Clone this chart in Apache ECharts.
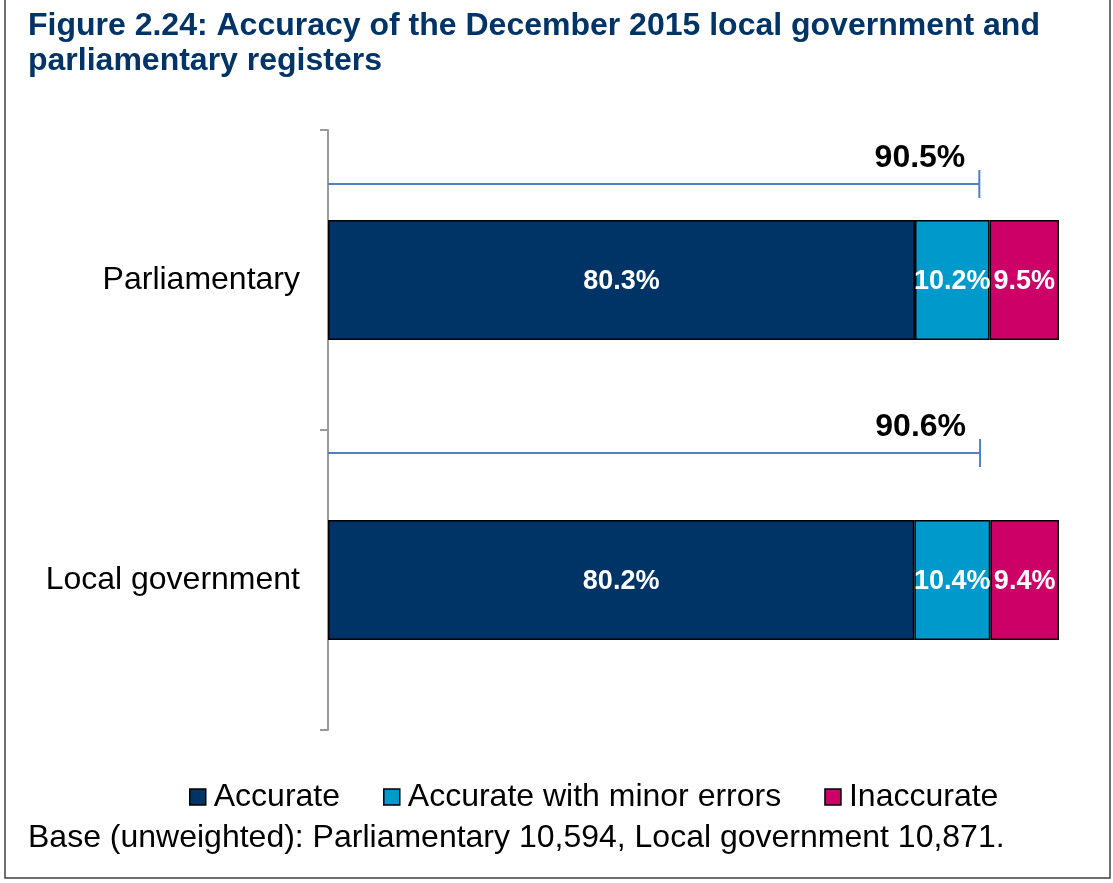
<!DOCTYPE html>
<html>
<head>
<meta charset="utf-8">
<script src="https://cdn.jsdelivr.net/npm/echarts@6/dist/echarts.min.js"></script>
<style>
html,body{margin:0;padding:0;background:#fff;}
#chart{width:1113px;height:883px;}
</style>
</head>
<body>
<div id="chart"></div>
<script>
// ---- data ----
const categories = ['Parliamentary', 'Local government'];
const seriesNames = ['Accurate', 'Accurate with minor errors', 'Inaccurate'];
const accurate = [80.3, 80.2];
const minorErrors = [10.2, 10.4];
const inaccurate = [9.5, 9.4];
const bracketTotals = [90.5, 90.6];      // labels above the bracket lines
const bracketReach = [89.1, 89.2];       // where the bracket line ends on the x scale
const titleText = 'Figure 2.24: Accuracy of the December 2015 local government and\nparliamentary registers';
const baseNote = 'Base (unweighted): Parliamentary 10,594, Local government 10,871.';

// ---- layout/style (not data) ----
const FONT = 'Liberation Sans, Arial, Helvetica, sans-serif';
const colors = ['#003366', '#0099CC', '#CC0066'];
const bracketOffsets = [-96, -127];

const chart = echarts.init(document.getElementById('chart'));

function barSeries(name, values, color) {
  return {
    name: name,
    type: 'bar',
    stack: 'total',
    barWidth: 120,
    data: values,
    itemStyle: { color: color, borderColor: '#000', borderWidth: 1.5 },
    label: {
      show: true,
      position: 'inside',
      offset: [0, 2],
      color: '#fff',
      fontFamily: FONT,
      fontWeight: 'bold',
      fontSize: 27,
      formatter: p => p.value.toFixed(1) + '%'
    },
    emphasis: { disabled: true }
  };
}

const option = {
  backgroundColor: '#fff',
  animation: false,
  title: {
    text: titleText,
    left: 23,
    top: 4,
    textStyle: { fontFamily: FONT, fontWeight: 'bold', fontSize: 32, lineHeight: 35, color: '#003366' }
  },
  legend: {
    data: seriesNames,
    left: 189,
    top: 781,
    padding: 0,
    itemWidth: 16,
    itemHeight: 16,
    itemGap: 43,
    icon: 'rect',
    selectedMode: false,
    itemStyle: { borderColor: '#000', borderWidth: 1.5 },
    textStyle: { fontFamily: FONT, fontSize: 32, color: '#000', padding: [0, 0, 0, 3], lineHeight: 32 }
  },
  grid: { left: 328, right: 54, top: 130, bottom: 153, containLabel: false },
  xAxis: {
    type: 'value',
    min: 0,
    max: 100,
    show: false
  },
  yAxis: {
    type: 'category',
    inverse: true,
    data: categories,
    axisLine: { show: true, lineStyle: { color: '#9a9a9a', width: 2 } },
    axisTick: { show: true, length: 8, lineStyle: { color: '#9a9a9a', width: 2 } },
    axisLabel: { margin: 28, fontFamily: FONT, fontSize: 32, color: '#000' }
  },
  series: [
    barSeries(seriesNames[0], accurate, colors[0]),
    barSeries(seriesNames[1], minorErrors, colors[1]),
    barSeries(seriesNames[2], inaccurate, colors[2]),
    {
      type: 'custom',
      name: 'bracket',
      silent: true,
      z: 5,
      data: bracketReach.map((v, i) => [v, i, bracketTotals[i]]),
      encode: { x: 0, y: 1 },
      renderItem: function (params, api) {
        const end = api.coord([api.value(0), api.value(1)]);
        const start = api.coord([0, api.value(1)]);
        const y = end[1] + bracketOffsets[params.dataIndex];
        const stroke = { stroke: '#4F81BD', lineWidth: 2 };
        return {
          type: 'group',
          children: [
            { type: 'line', shape: { x1: start[0], y1: y, x2: end[0], y2: y }, style: stroke },
            { type: 'line', shape: { x1: end[0], y1: y - 14, x2: end[0], y2: y + 14 }, style: stroke },
            {
              type: 'text',
              x: end[0] - 14,
              y: y - 26,
              style: {
                text: api.value(2).toFixed(1) + '%',
                fill: '#000',
                font: 'bold 32px ' + FONT,
                textAlign: 'right',
                textVerticalAlign: 'middle'
              }
            }
          ]
        };
      }
    }
  ],
  graphic: [
    {
      type: 'rect',
      shape: { x: 5, y: -5, width: 1105, height: 883 },
      style: { fill: 'none', stroke: '#404040', lineWidth: 1.5 },
      silent: true
    },
    {
      type: 'text',
      x: 28,
      y: 838,
      style: { text: baseNote, font: '32px ' + FONT, fill: '#000', textVerticalAlign: 'middle' }
    }
  ]
};

chart.setOption(option);
</script>
</body>
</html>
